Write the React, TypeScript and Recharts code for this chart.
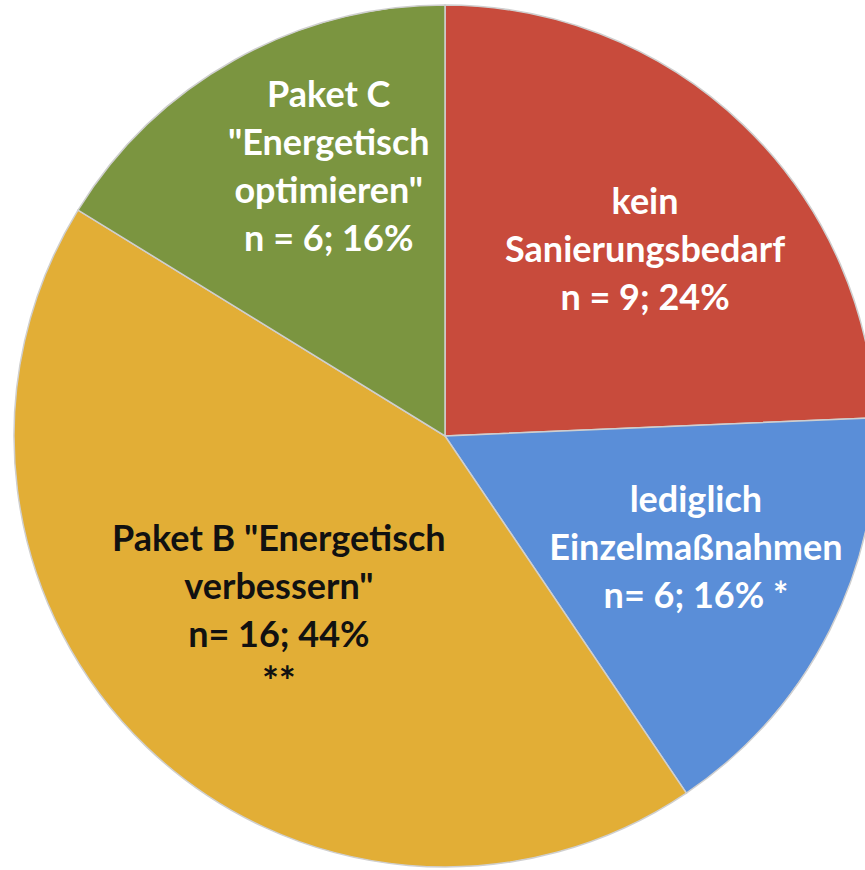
import { Cell, Pie, PieChart } from 'recharts';

// Slices, clockwise from 12 o'clock
const categories = ['kein Sanierungsbedarf', 'lediglich Einzelmaßnahmen', 'Paket B', 'Paket C'];
const counts = [9, 6, 16, 6];
const labelLines = [
  ['kein', 'Sanierungsbedarf', 'n = 9; 24%'],
  ['lediglich', 'Einzelmaßnahmen', 'n= 6; 16% *'],
  ['Paket B "Energetisch', 'verbessern"', 'n= 16; 44%', '**'],
  ['Paket C', '"Energetisch', 'optimieren"', 'n = 6; 16%'],
];

const COLORS = ['#C84B3C', '#5A8ED8', '#E2AE36', '#7B9540'];
const TEXT_COLORS = ['#ffffff', '#ffffff', '#111111', '#ffffff'];
// label anchor: share of radius, and angle nudge (deg, counter-clockwise)
const LABEL_POS = [
  { r: 0.637, nudge: -3 },
  { r: 0.636, nudge: 3 },
  { r: 0.557, nudge: 0 },
  { r: 0.685, nudge: -6 },
];
const LINE_HEIGHT = 48;

const data = categories.map((name, i) => ({ name, value: counts[i] }));

const RAD = Math.PI / 180;

function SliceLabel(props: any) {
  const { cx, cy, midAngle, outerRadius, index } = props;
  const pos = LABEL_POS[index];
  const a = (midAngle + pos.nudge) * RAD;
  const x = cx + outerRadius * pos.r * Math.cos(a);
  const y = cy - outerRadius * pos.r * Math.sin(a);
  const lines = labelLines[index];
  const top = y - ((lines.length - 1) * LINE_HEIGHT) / 2;
  return (
    <text
      x={x}
      y={top}
      textAnchor="middle"
      fill={TEXT_COLORS[index]}
      fontSize={36}
      fontWeight="bold"
      fontFamily="Lato, 'Open Sans', sans-serif"
    >
      {lines.map((line, i) => (
        <tspan
          key={i}
          x={x}
          y={top + i * LINE_HEIGHT}
          dominantBaseline="central"
          fontSize={line === '**' ? 40 : undefined}
        >
          {line}
        </tspan>
      ))}
    </text>
  );
}

export default function App() {
  return (
    <div style={{ position: 'fixed', left: 0, top: 0, width: 865, height: 870, background: '#fff' }}>
      <PieChart width={865} height={870} margin={{ top: 0, right: 0, bottom: 0, left: 0 }}>
        <Pie
          data={data}
          dataKey="value"
          nameKey="name"
          cx={445}
          cy={436}
          outerRadius={431}
          startAngle={90}
          endAngle={-270}
          stroke="#cfcfcf"
          strokeWidth={1.5}
          labelLine={false}
          label={SliceLabel}
          isAnimationActive={false}
        >
          {data.map((d, i) => (
            <Cell key={d.name} fill={COLORS[i]} />
          ))}
        </Pie>
      </PieChart>
    </div>
  );
}
